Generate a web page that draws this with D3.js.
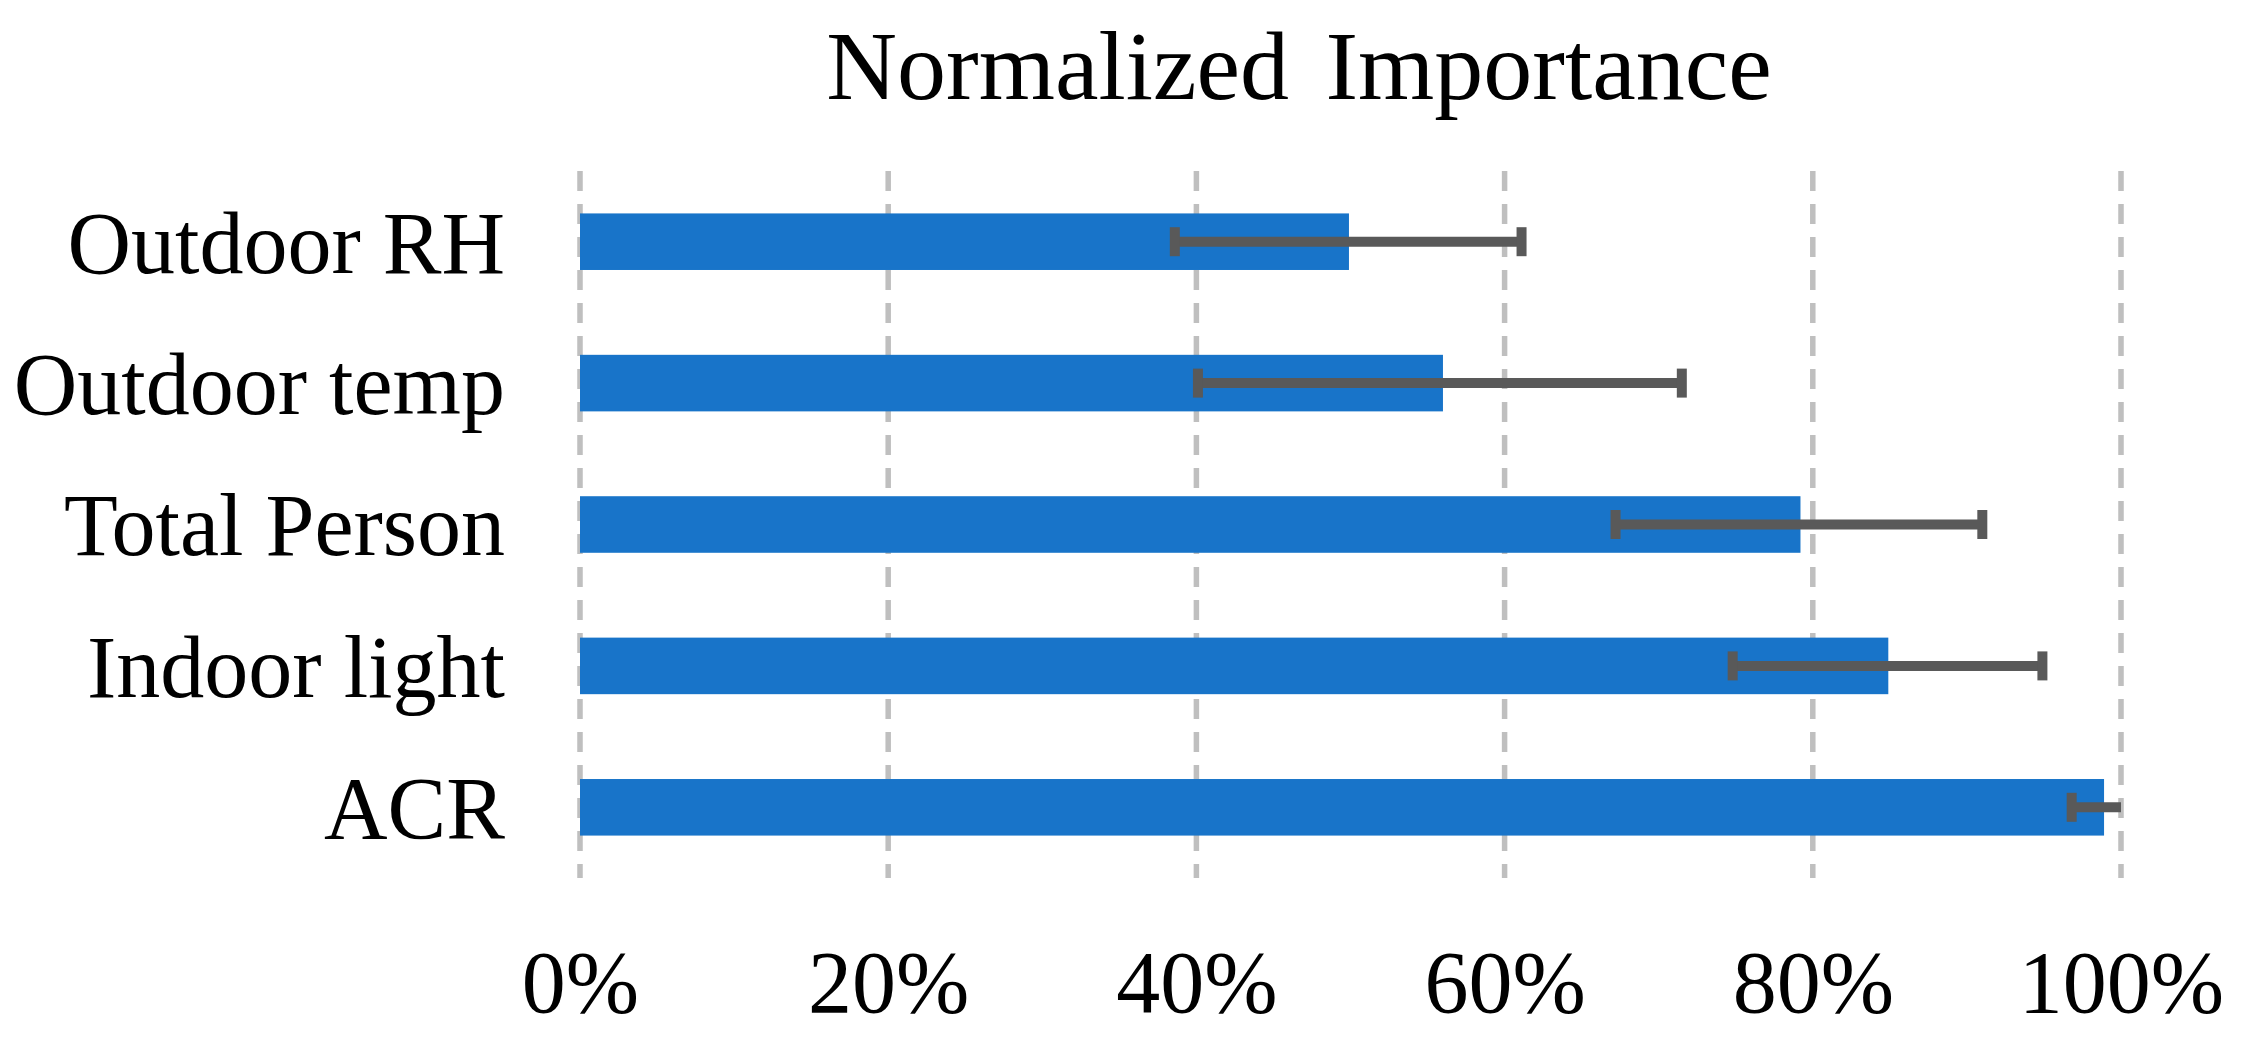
<!DOCTYPE html>
<html>
<head>
<meta charset="utf-8">
<script src="https://cdn.jsdelivr.net/npm/d3@7"></script>
<style>
    body { margin: 0; background: #fff; }
    svg { display: block; }
    text { font-family: "Liberation Serif", "Times New Roman", serif; fill: #000; }
</style>
</head>
<body>
<div id="chart"></div>
<script>
// data (fractions of 1)
let categories = ["Outdoor RH", "Outdoor temp", "Total Person", "Indoor light", "ACR"];
let importance = [0.499, 0.560, 0.792, 0.849, 0.989];
let errLow     = [0.386, 0.401, 0.672, 0.748, 0.968];
let errHigh    = [0.611, 0.715, 0.910, 0.949, 1.010];
let tickValues = [0, 0.2, 0.4, 0.6, 0.8, 1.0];
let title = "Normalized Importance";

// svg dims
let width = 2246, height = 1043;
let margin = {top: 171, left: 580, right: 125, bottom: 165};
let innerwidth = width - margin.left - margin.right;
let innerheight = height - margin.top - margin.bottom;

let svg = d3.select('#chart').append('svg')
    .attr('width', width)
    .attr('height', height);

let x = d3.scaleLinear()
    .domain([0, 1])
    .range([0, innerwidth]);

let y = d3.scaleBand()
    .domain(categories)
    .range([0, innerheight])
    .paddingInner(0.6)
    .paddingOuter(0.3);

let g = svg.append('g')
    .attr('transform', `translate(${margin.left},${margin.top})`);

// clip so the error bars never run past 100%
svg.append('defs').append('clipPath')
    .attr('id', 'plotclip')
    .append('rect')
    .attr('x', 0).attr('y', 0)
    .attr('width', innerwidth).attr('height', innerheight);

// dashed vertical gridlines
g.append('g')
    .selectAll('line')
    .data(tickValues)
    .join('line')
    .attr('x1', d => x(d))
    .attr('x2', d => x(d))
    .attr('y1', 0)
    .attr('y2', innerheight)
    .attr('stroke', '#bfbfbf')
    .attr('stroke-width', 5.5)
    .attr('stroke-dasharray', '20,13');

// bars
g.append('g')
    .selectAll('rect')
    .data(categories)
    .join('rect')
    .attr('x', x(0))
    .attr('y', d => y(d))
    .attr('width', (d, i) => x(importance[i]) - x(0))
    .attr('height', y.bandwidth())
    .attr('fill', '#1874c9');

// error bars
let err = g.append('g')
    .attr('clip-path', 'url(#plotclip)')
    .attr('stroke', '#595959')
    .attr('stroke-width', 10);

let capHalf = 14.5;
categories.forEach(function(c, i) {
    let cy = y(c) + y.bandwidth() / 2;
    err.append('line')
        .attr('x1', x(errLow[i])).attr('x2', x(errHigh[i]))
        .attr('y1', cy).attr('y2', cy);
    [errLow[i], errHigh[i]].forEach(function(v) {
        err.append('line')
            .attr('x1', x(v)).attr('x2', x(v))
            .attr('y1', cy - capHalf).attr('y2', cy + capHalf);
    });
});

// category labels (no axis line)
let yAxis = d3.axisLeft(y).tickSize(0).tickPadding(75);
g.append('g')
    .call(yAxis)
    .call(a => a.select('.domain').remove())
    .selectAll('text')
    .style('font-family', '"Liberation Serif", "Times New Roman", serif')
    .attr('font-size', 88)
    .attr('fill', '#000')
    .attr('dy', '0.35em');

// percent tick labels along the bottom
let xAxis = d3.axisBottom(x)
    .tickValues(tickValues)
    .tickFormat(d3.format('.0%'))
    .tickSize(0)
    .tickPadding(0);
g.append('g')
    .attr('transform', `translate(0,${innerheight})`)
    .call(xAxis)
    .call(a => a.select('.domain').remove())
    .selectAll('text')
    .style('font-family', '"Liberation Serif", "Times New Roman", serif')
    .attr('font-size', 88)
    .attr('fill', '#000')
    .attr('y', 134)
    .attr('dy', 0);

// title
svg.append('text')
    .attr('x', 1299)
    .attr('y', 99)
    .attr('text-anchor', 'middle')
    .attr('font-size', 98)
    .style('word-spacing', '12px')
    .text(title);
</script>
</body>
</html>
